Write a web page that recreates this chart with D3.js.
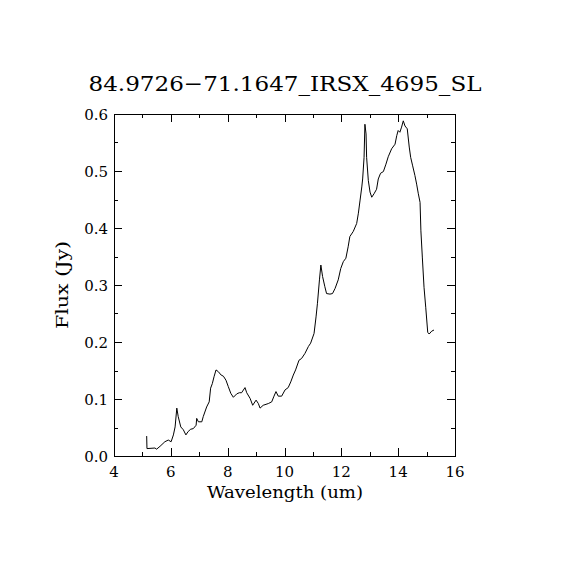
<!DOCTYPE html>
<html lang="en">
<head>
  <meta charset="UTF-8">
  <title>84.9726-71.1647_IRSX_4695_SL</title>
  <style>
    body { margin: 0; background: #fff; }
    svg text { font-family: "DejaVu Serif", serif; fill: #000; }
  </style>
</head>
<body>
  <svg id="chart" width="570" height="570"></svg>
  <script src="https://d3js.org/d3.v7.min.js"></script>
  <script>
    // Spectrum
    const wavelength = [5.15, 5.16, 5.44, 5.50, 5.62, 5.79, 5.91, 6.01, 6.09, 6.15, 6.21, 6.26, 6.35, 6.44,
      6.53, 6.61, 6.70, 6.79, 6.89, 6.91, 6.97, 7.09, 7.14, 7.26, 7.35, 7.40, 7.46, 7.52, 7.59,
      7.67, 7.77, 7.85, 7.94, 8.02, 8.11, 8.20, 8.32, 8.41, 8.49, 8.61, 8.67, 8.79, 8.88, 9.00,
      9.08, 9.14, 9.25, 9.43, 9.55, 9.63, 9.70, 9.78, 9.90, 10.02, 10.13, 10.22, 10.31, 10.39,
      10.51, 10.60, 10.72, 10.84, 10.92, 11.04, 11.11, 11.16, 11.23, 11.28, 11.34, 11.42, 11.48,
      11.60, 11.69, 11.78, 11.89, 11.98, 12.07, 12.16, 12.24, 12.30, 12.42, 12.54, 12.60, 12.66,
      12.72, 12.75, 12.80, 12.83, 12.87, 12.89, 12.95, 13.01, 13.07, 13.15, 13.24, 13.30, 13.38,
      13.48, 13.57, 13.65, 13.77, 13.89, 13.95, 14.00, 14.06, 14.12, 14.18, 14.24, 14.32, 14.39,
      14.44, 14.51, 14.59, 14.65, 14.71, 14.77, 14.80, 14.85, 14.91, 14.97, 15.04, 15.09, 15.18, 15.26]
    const flux = [0.035, 0.013, 0.014, 0.012, 0.017, 0.025, 0.028, 0.025, 0.037, 0.051, 0.084, 0.069, 0.051, 0.046,
      0.037, 0.043, 0.047, 0.048, 0.054, 0.066, 0.060, 0.060, 0.069, 0.086, 0.095, 0.119, 0.127, 0.139, 0.151,
      0.148, 0.142, 0.140, 0.133, 0.122, 0.110, 0.103, 0.109, 0.111, 0.111, 0.120, 0.111, 0.101, 0.089, 0.098,
      0.092, 0.084, 0.089, 0.092, 0.095, 0.105, 0.113, 0.105, 0.105, 0.116, 0.120, 0.130, 0.142, 0.151,
      0.168, 0.171, 0.180, 0.192, 0.198, 0.215, 0.244, 0.268, 0.309, 0.335, 0.315, 0.297, 0.285,
      0.284, 0.285, 0.294, 0.309, 0.329, 0.341, 0.347, 0.367, 0.385, 0.394, 0.408, 0.426, 0.449,
      0.472, 0.486, 0.524, 0.582, 0.565, 0.524, 0.483, 0.463, 0.454, 0.460, 0.468, 0.486, 0.496,
      0.499, 0.512, 0.525, 0.539, 0.547, 0.562, 0.571, 0.568, 0.577, 0.588, 0.579, 0.574, 0.542,
      0.524, 0.509, 0.492, 0.477, 0.460, 0.445, 0.395, 0.349, 0.296, 0.261, 0.217, 0.214, 0.219, 0.221]

    const xTicks = [4, 6, 8, 10, 12, 14, 16]
    const yTicks = [0.0, 0.1, 0.2, 0.3, 0.4, 0.5, 0.6]

    const margin = { top: 114, right: 115, bottom: 114, left: 114 }
    const width = 570 - margin.left - margin.right
    const height = 570 - margin.top - margin.bottom

    const svg = d3.select('#chart')

    const xscale = d3.scaleLinear().domain([4, 16]).range([margin.left, margin.left + width])
    const yscale = d3.scaleLinear().domain([0, 0.6]).range([margin.top + height, margin.top])

    // Frame
    svg.append('rect')
      .attr('x', margin.left + 0.5)
      .attr('y', margin.top + 0.5)
      .attr('width', width)
      .attr('height', height)
      .attr('fill', 'none')
      .attr('stroke', '#000')

    // Ticks on all four sides, major and minor
    const xMinor = d3.range(5, 16, 2)
    const yMinor = d3.range(0.05, 0.6, 0.1)
    const tickGroup = svg.append('g').attr('stroke', '#000').attr('stroke-width', 1)
    const addTicks = (vals, len) => {
      vals.forEach(v => {
        const x = Math.round(xscale(v)) + 0.5
        tickGroup.append('line').attr('x1', x).attr('x2', x)
          .attr('y1', margin.top + height).attr('y2', margin.top + height - len)
        tickGroup.append('line').attr('x1', x).attr('x2', x)
          .attr('y1', margin.top).attr('y2', margin.top + len)
      })
    }
    const addYTicks = (vals, len) => {
      vals.forEach(v => {
        const y = Math.round(yscale(v)) + 0.5
        tickGroup.append('line').attr('y1', y).attr('y2', y)
          .attr('x1', margin.left).attr('x2', margin.left + len)
        tickGroup.append('line').attr('y1', y).attr('y2', y)
          .attr('x1', margin.left + width).attr('x2', margin.left + width - len)
      })
    }
    addTicks(xTicks, 8)
    addTicks(xMinor, 4)
    addYTicks(yTicks, 8)
    addYTicks(yMinor, 4)

    // Tick labels
    svg.append('g').selectAll('text')
      .data(xTicks)
      .join('text')
      .attr('x', d => xscale(d))
      .attr('y', 477)
      .attr('text-anchor', 'middle')
      .attr('font-size', 15)
      .text(d => d)

    svg.append('g').selectAll('text')
      .data(yTicks)
      .join('text')
      .attr('x', 108)
      .attr('y', d => yscale(d) + 6)
      .attr('text-anchor', 'end')
      .attr('font-size', 15)
      .text(d => d.toFixed(1))

    // Titles
    svg.append('text')
      .attr('x', 285)
      .attr('y', 91)
      .attr('text-anchor', 'middle')
      .attr('font-size', 21)
      .attr('textLength', 393)
      .attr('lengthAdjust', 'spacingAndGlyphs')
      .text('84.9726\u221271.1647_IRSX_4695_SL')

    svg.append('text')
      .attr('x', 285)
      .attr('y', 498)
      .attr('text-anchor', 'middle')
      .attr('font-size', 16)
      .attr('textLength', 156)
      .attr('lengthAdjust', 'spacingAndGlyphs')
      .text('Wavelength (um)')

    svg.append('text')
      .attr('transform', 'translate(68, 285) rotate(-90)')
      .attr('text-anchor', 'middle')
      .attr('font-size', 16)
      .attr('textLength', 88)
      .attr('lengthAdjust', 'spacingAndGlyphs')
      .text('Flux (Jy)')

    // Spectrum line
    const points = wavelength.map((w, i) => [w, flux[i]])
    const line = d3.line()
      .x(d => xscale(d[0]))
      .y(d => yscale(d[1]))

    svg.append('path')
      .datum(points)
      .attr('d', line)
      .attr('fill', 'none')
      .attr('stroke', '#000')
      .attr('stroke-width', 1)
  </script>
</body>
</html>
